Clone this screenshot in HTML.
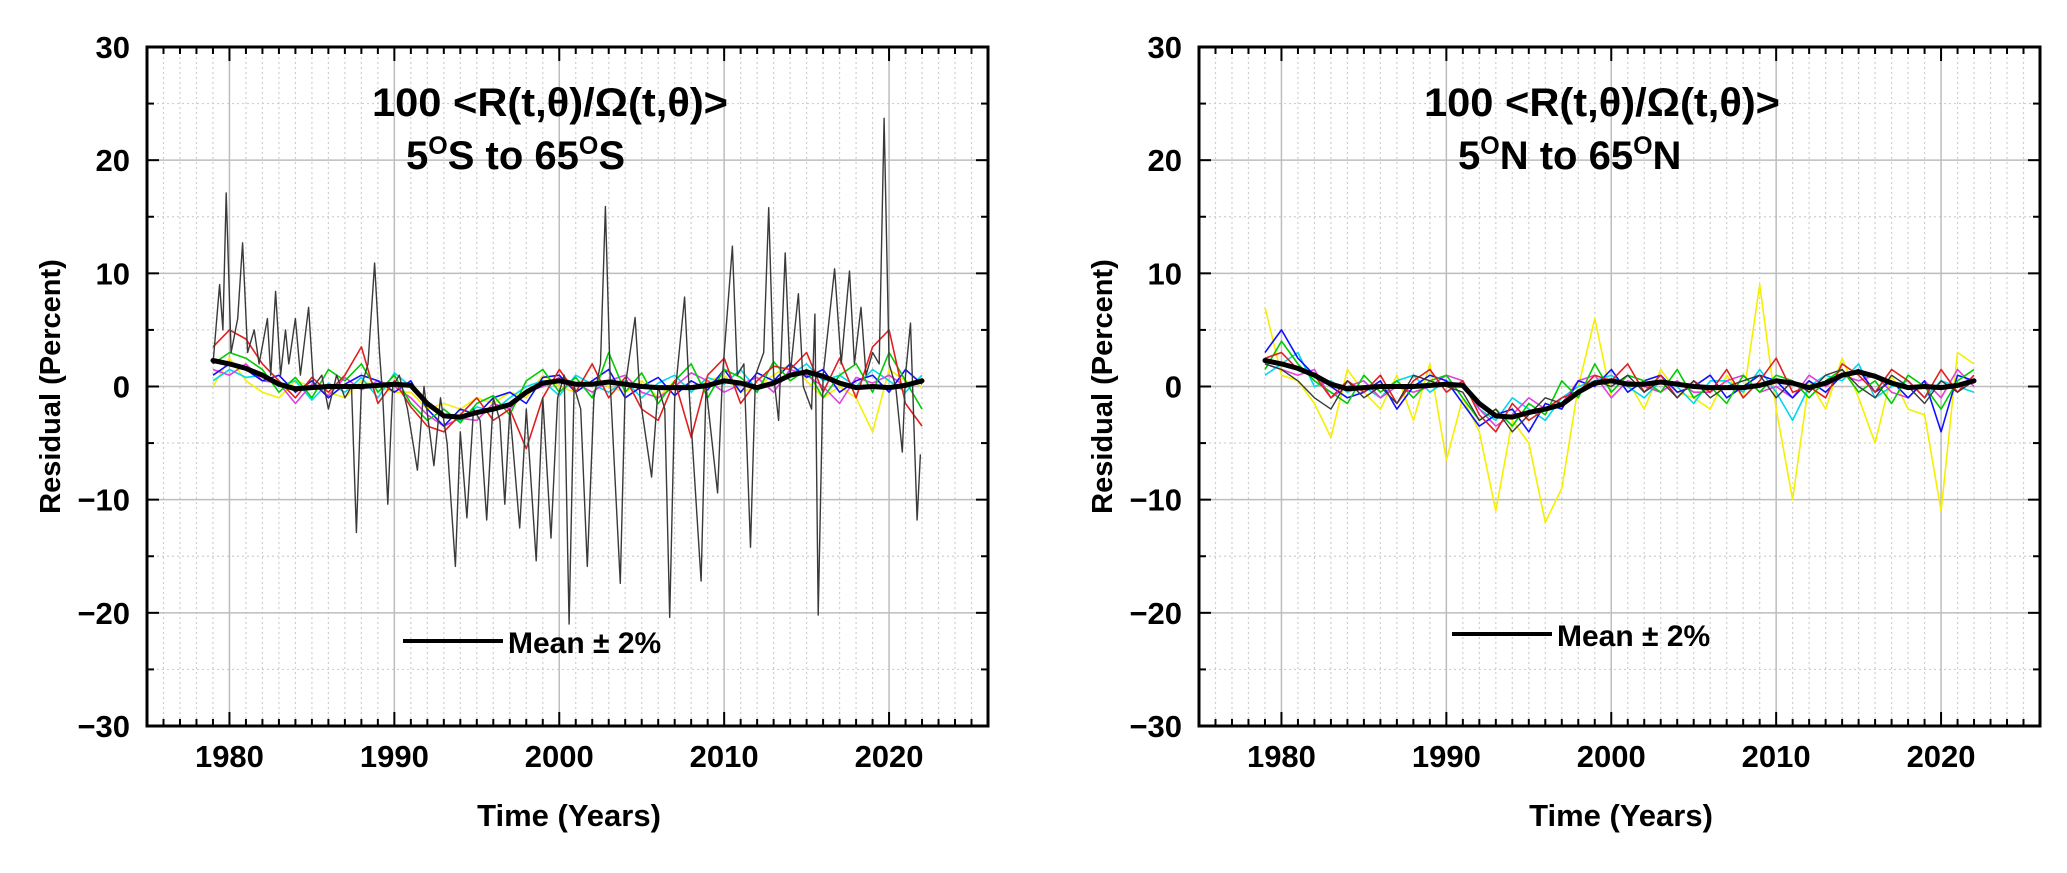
<!DOCTYPE html>
<html><head><meta charset="utf-8"><style>
body{margin:0;background:#fff;}
svg text{font-family:"Liberation Sans",Arial,sans-serif;font-weight:bold;fill:#000;}
</style></head><body>
<svg id="chart" width="2067" height="868" viewBox="0 0 2067 868" xmlns="http://www.w3.org/2000/svg"></svg>
<script>
// ---- data ----
const years = [1979,1980,1981,1982,1983,1984,1985,1986,1987,1988,1989,1990,1991,1992,1993,1994,1995,1996,1997,1998,1999,2000,2001,2002,2003,2004,2005,2006,2007,2008,2009,2010,2011,2012,2013,2014,2015,2016,2017,2018,2019,2020,2021,2022];
const meanValues = [2.3,2.0,1.6,1.0,0.2,-0.2,-0.1,0,0,0,0.1,0.2,0.1,-1.5,-2.6,-2.7,-2.3,-2.0,-1.6,-0.5,0.3,0.5,0.2,0.2,0.4,0.2,0,-0.1,-0.1,-0.1,0.1,0.5,0.3,-0.1,0.3,1.0,1.3,0.9,0.3,-0.1,0.0,-0.1,0.1,0.5];
const xTicks = [1980,1990,2000,2010,2020];
const yTicks = [30,20,10,0,-10,-20,-30];
const yTickLabels = ["30","20","10","0","\u221210","\u221220","\u221230"];

const southRed = [3.5,5.0,4.2,2.0,0.5,-1.0,0.8,-0.5,1.0,3.5,-1.5,0.5,-1.8,-3.5,-4.0,-2.5,-1.0,-3.0,-2.0,-5.5,-1.0,1.5,-0.5,2.0,-1.0,0.8,-2.0,-3.0,0.5,-4.5,1.0,2.5,-1.5,0.5,1.8,1.5,3.0,-0.5,2.5,-1.0,3.5,5.0,-1.5,-3.5];
const southGreen = [2.0,3.0,2.5,1.5,-0.5,0.8,-1.0,1.5,0.5,2.0,-0.5,1.0,-1.5,-3.0,-2.0,-3.2,-1.5,-0.8,-2.5,0.5,1.5,-0.5,0.8,-1.0,3.0,-0.5,1.2,-1.5,0.5,2.0,-1.0,1.5,0.8,-0.5,2.2,0.5,1.5,-1.0,1.0,2.0,-0.5,3.0,0.5,-2.0];
const southBlue = [1.0,2.0,1.5,0.5,1.0,-0.5,0.5,-1.0,0.2,1.0,0.5,-0.5,0.5,-2.0,-3.5,-2.0,-2.5,-1.0,-0.5,-1.5,0.8,1.0,-0.5,0.5,1.5,-1.0,0.0,0.8,-0.8,0.5,-0.3,1.5,-0.5,1.2,0.5,2.0,0.8,1.5,-0.5,0.5,1.0,-0.5,1.5,0.2];
const southCyan = [0.5,1.5,0.8,1.0,0.0,0.5,-1.2,0.3,-0.5,0.8,-1.0,1.2,0.0,-1.5,-2.5,-3.0,-1.8,-2.2,-1.0,0.0,0.5,-0.8,1.0,0.2,-0.5,0.5,-1.0,0.3,1.0,-0.5,0.8,0.2,1.5,-0.3,0.5,1.0,2.0,0.5,1.0,0.0,1.5,0.5,-0.5,1.0];
const southMagenta = [1.5,1.0,2.0,0.5,0.3,-1.5,0.2,-0.8,0.8,-0.3,0.5,0.0,-1.0,-2.5,-3.5,-2.8,-3.0,-1.5,-2.0,-0.5,0.0,0.8,0.3,-0.5,0.5,1.0,-0.5,-1.0,0.0,1.2,0.5,-0.5,0.2,0.8,-0.5,1.5,1.0,0.0,-1.5,0.8,0.3,1.0,0.0,0.5];
const southYellow = [0.0,2.5,0.5,-0.5,-1.0,0.5,0.0,-0.5,-1.0,0.5,0.0,-0.5,-0.5,-2.0,-1.5,-2.0,-1.0,-1.5,-0.5,-1.0,1.0,0.0,-0.5,0.5,0.0,-0.5,0.5,-1.0,0.5,0.0,0.5,1.0,-0.5,0.0,1.0,2.0,0.5,-1.0,0.0,-1.0,-4.0,1.5,0.5,0.0];
const southBlackYears = [1979,1979.4,1979.6,1979.8,1980.1,1980.5,1980.8,1981.1,1981.5,1981.8,1982.3,1982.5,1982.8,1983.1,1983.4,1983.6,1984,1984.3,1984.8,1985.1,1985.6,1986,1986.5,1987,1987.4,1987.7,1988,1988.4,1988.8,1989.1,1989.3,1989.6,1989.9,1990.3,1990.8,1991.4,1991.8,1992.4,1992.8,1993.2,1993.7,1994,1994.4,1994.8,1995.2,1995.6,1996,1996.4,1996.7,1997,1997.6,1998,1998.6,1999,1999.5,1999.9,2000.3,2000.6,2000.9,2001.3,2001.7,2002.1,2002.5,2002.8,2003.1,2003.7,2004,2004.6,2004.9,2005.6,2006,2006.4,2006.7,2007,2007.6,2007.9,2008.6,2008.9,2009.6,2009.9,2010.5,2010.8,2011.2,2011.6,2011.9,2012.4,2012.7,2013.0,2013.3,2013.7,2014.0,2014.5,2014.8,2015.3,2015.5,2015.7,2016.0,2016.7,2017.1,2017.6,2017.9,2018.3,2018.6,2019.0,2019.4,2019.7,2020.0,2020.4,2020.8,2021.0,2021.3,2021.7,2021.9];
const southBlackValues = [2,9,5,17.1,3,6,12.7,3,5,2,6,1,8.4,1,5,2,6,1,7,0,1,-2,1,-1,0,-12.9,0,2,10.9,3,-1,-10.4,0,1,-2,-7.4,0,-7,-1,-5,-15.9,-4,-11.6,-2,-3,-11.8,-1,-3,-10.4,-2,-12.5,-2,-15.4,-1,-13.4,-1,1,-21,0,-2,-15.9,-1,2,15.9,0,-17.4,0,6.1,-1,-8,0,-2,-20.4,-1,7.9,-1,-17.2,0,-9.4,1,12.4,1,2,-14.2,1,3,15.8,1,-3,11.8,1,8.2,0,-2,6.4,-20.2,1,10.4,2,10.2,2,7,1,3,2,23.7,2,0,-5.8,1,5.6,-11.8,-6];

const northRed = [2.5,3.0,1.5,1.0,-1.0,0.5,-0.5,1.0,-1.5,0.5,1.5,-0.5,0.5,-2.5,-4.0,-1.5,-3.0,-2.0,-1.0,-0.5,1.0,0.5,2.0,-0.5,1.0,-1.0,0.5,-0.5,1.5,-1.0,0.5,2.5,-0.5,0.0,-1.0,2.0,1.0,-0.5,1.5,0.5,-1.0,1.5,-0.5,1.0];
const northGreen = [1.5,4.0,2.0,0.5,-0.5,-1.5,1.0,-0.5,0.5,-1.0,0.5,1.0,-1.0,-3.0,-2.0,-3.5,-1.5,-2.5,0.5,-1.0,2.0,-0.5,1.0,0.5,-0.5,1.5,-1.0,0.0,-1.5,1.0,-0.5,1.0,0.5,-1.0,0.5,1.5,-0.5,0.5,-1.5,1.0,0.0,-2.0,0.5,1.5];
const northBlue = [3.0,5.0,2.5,1.0,0.0,-1.0,-0.5,0.5,-2.0,0.0,1.0,0.5,-1.5,-3.5,-2.5,-2.0,-4.0,-1.5,-2.0,0.5,0.0,1.5,-0.5,0.5,1.0,-0.5,0.0,1.0,-1.0,0.0,1.0,0.5,-1.0,0.5,-0.5,1.0,1.5,-0.5,0.5,-1.0,0.5,-4.0,1.0,0.5];
const northCyan = [1.0,2.0,3.0,0.0,0.5,-0.5,0.0,-1.0,0.5,1.0,-0.5,0.5,0.0,-2.0,-3.0,-1.0,-2.0,-3.0,-1.0,0.0,0.5,1.0,0.0,-1.0,0.5,0.0,-1.5,0.5,0.5,-0.5,1.5,-0.5,-3.0,0.0,1.0,0.5,2.0,-1.0,0.0,0.5,-1.0,0.5,0.0,-0.5];
const northMagenta = [2.0,1.5,1.0,1.5,-1.0,0.0,0.5,-1.0,0.0,-0.5,0.0,1.0,0.5,-2.0,-3.5,-2.5,-1.0,-2.0,-1.5,0.5,1.0,-1.0,0.5,0.0,-0.5,0.5,-0.5,-0.5,0.5,1.0,-0.5,0.0,-1.0,1.0,0.0,1.0,0.5,1.0,-0.5,-1.0,0.5,-1.0,1.5,0.0];
const northYellow = [7.0,1.0,0.5,-1.5,-4.5,1.5,-0.5,-2.0,1.0,-3.0,2.0,-6.5,-1.0,-4.0,-11.0,-3.0,-5.0,-12.0,-9.0,0.0,6.0,-1.0,0.5,-2.0,1.5,-0.5,-1.0,-2.0,1.0,-1.0,9.0,-2.0,-10.0,0.5,-2.0,2.5,-1.0,-5.0,1.0,-2.0,-2.5,-11.0,3.0,2.0];
const northBlack = [2.0,1.5,0.5,-1.0,-2.0,0.5,-1.0,0.0,-1.5,1.0,0.5,0.0,-0.5,-3.0,-2.0,-4.0,-2.5,-1.0,-1.5,-0.5,0.5,0.0,1.0,-0.5,0.5,-1.0,0.5,-1.0,0.0,0.5,1.0,-1.0,0.5,-0.5,1.0,1.5,0.0,-1.0,1.0,0.0,-1.5,0.5,-0.5,0.5];

// ---- drawing ----
const NS = "http://www.w3.org/2000/svg";
const svg = document.getElementById("chart");
const X0 = 1975, X1 = 2026, Y0 = -30, Y1 = 30;
const PW = 841, TOP = 47, BOT = 726;

function mk(tag, attrs, parent) {
  const e = document.createElementNS(NS, tag);
  for (const k in attrs) e.setAttribute(k, attrs[k]);
  (parent || svg).appendChild(e);
  return e;
}

function drawPanel(left, panelName, lines, blackXs, blackYs, title2a, title2b, legendX, legendY) {
  const g = mk("g", {});
  
  
  const sx = v => left + (v - X0) / (X1 - X0) * PW;
  const sy = v => BOT - (v - Y0) / (Y1 - Y0) * (BOT - TOP);
  const right = left + PW;
  // minor grid
  for (let yr = 1976; yr < X1; yr++) {
    if (yr % 10 === 0) continue;
    const l = mk("line", {x1: sx(yr), x2: sx(yr), y1: TOP, y2: BOT, stroke: "#cfcfcf", "stroke-width": 1.2, "stroke-dasharray": "2,3"}, g);
    
    
  }
  for (let v = -25; v < 30; v += 10) {
    const l = mk("line", {x1: left, x2: right, y1: sy(v), y2: sy(v), stroke: "#cfcfcf", "stroke-width": 1.2, "stroke-dasharray": "2,3"}, g);
    
    
  }
  // major grid
  xTicks.forEach(t => {
    const l = mk("line", {x1: sx(t), x2: sx(t), y1: TOP, y2: BOT, stroke: "#bdbdbd", "stroke-width": 1.5}, g);
    
    
  });
  yTicks.forEach(t => {
    if (t === 30 || t === -30) return;
    const l = mk("line", {x1: left, x2: right, y1: sy(t), y2: sy(t), stroke: "#bdbdbd", "stroke-width": 1.5}, g);
    
    
  });
  // series
  lines.forEach(s => {
    const pts = years.map((yr, i) => sx(yr).toFixed(1) + "," + sy(s.vals[i]).toFixed(1)).join(" ");
    const p = mk("polyline", {points: pts, fill: "none", stroke: s.color, "stroke-width": 1.6, "stroke-linejoin": "round"}, g);
    
    
  });
  if (blackXs) {
    const pts = blackXs.map((yr, i) => sx(yr).toFixed(1) + "," + sy(blackYs[i]).toFixed(1)).join(" ");
    const p = mk("polyline", {points: pts, fill: "none", stroke: "#3a3a3a", "stroke-width": 1.4, "stroke-linejoin": "round"}, g);
    
    
  }
  // mean
  const mp = years.map((yr, i) => sx(yr).toFixed(1) + "," + sy(meanValues[i]).toFixed(1)).join(" ");
  const mean = mk("polyline", {points: mp, fill: "none", stroke: "#000", "stroke-width": 5, "stroke-linejoin": "round", "stroke-linecap": "round"}, g);
  
  
  // ticks
  for (let yr = 1976; yr < X1; yr++) {
    const len = yr % 10 === 0 ? 14 : 7;
    mk("line", {x1: sx(yr), x2: sx(yr), y1: BOT, y2: BOT - len, stroke: "#000", "stroke-width": 2}, g);
    mk("line", {x1: sx(yr), x2: sx(yr), y1: TOP, y2: TOP + len, stroke: "#000", "stroke-width": 2}, g);
  }
  for (let v = -25; v < 30; v += 5) {
    const len = v % 10 === 0 ? 12 : 7;
    mk("line", {x1: left, x2: left + len, y1: sy(v), y2: sy(v), stroke: "#000", "stroke-width": 2}, g);
    mk("line", {x1: right, x2: right - len, y1: sy(v), y2: sy(v), stroke: "#000", "stroke-width": 2}, g);
  }
  // frame
  const fr = mk("rect", {x: left, y: TOP, width: PW, height: BOT - TOP, fill: "none", stroke: "#000", "stroke-width": 3}, g);
  
  
  // tick labels
  xTicks.forEach(t => {
    const tx = mk("text", {x: sx(t), y: 767, "font-size": 31, "text-anchor": "middle"}, g);
    tx.textContent = t;
    
    
  });
  yTicks.forEach((t, i) => {
    const tx = mk("text", {x: left - 17, y: sy(t) + 11, "font-size": 31, "text-anchor": "end"}, g);
    tx.textContent = yTickLabels[i];
    
    
  });
  // axis titles
  const xt = mk("text", {x: left + 422, y: 826, "font-size": 31, "text-anchor": "middle"}, g);
  xt.textContent = "Time (Years)";
  
  
  const yt = mk("text", {x: 0, y: 0, "font-size": 29, "text-anchor": "middle", transform: "translate(" + (left - 87) + "," + sy(0) + ") rotate(-90)"}, g);
  yt.textContent = "Residual (Percent)";
  
  
  // title
  const t1 = mk("text", {x: left + 225, y: 116, "font-size": 40, textLength: 356, lengthAdjust: "spacingAndGlyphs"}, g);
  t1.textContent = "100 <R(t,\u03B8)/\u03A9(t,\u03B8)>";
  
  
  const t2 = mk("text", {x: left + 259, y: 169, "font-size": 40}, g);
  
  
  t2.innerHTML = '5<tspan font-size="25" dy="-15">O</tspan><tspan dy="15">' + title2a + ' to 65</tspan><tspan font-size="25" dy="-15">O</tspan><tspan dy="15">' + title2b + '</tspan>';
  // legend
  const lg = mk("g", {}, g);
  
  
  mk("line", {x1: legendX, x2: legendX + 100, y1: legendY, y2: legendY, stroke: "#000", "stroke-width": 4}, lg);
  const lt = mk("text", {x: legendX + 105, y: legendY + 12, "font-size": 30}, lg);
  lt.textContent = "Mean \u00B1 2%";
}

drawPanel(147, "south-panel", [
  {name: "series-yellow", color: "#f5f000", vals: southYellow},
  {name: "series-cyan", color: "#00d8f0", vals: southCyan},
  {name: "series-magenta", color: "#e040e0", vals: southMagenta},
  {name: "series-blue", color: "#1010ff", vals: southBlue},
  {name: "series-green", color: "#00cc00", vals: southGreen},
  {name: "series-red", color: "#e02020", vals: southRed}
], southBlackYears, southBlackValues, "S", "S", 403, 641);

drawPanel(1199, "north-panel", [
  {name: "series-yellow", color: "#f5f000", vals: northYellow},
  {name: "series-cyan", color: "#00d8f0", vals: northCyan},
  {name: "series-magenta", color: "#e040e0", vals: northMagenta},
  {name: "series-blue", color: "#1010ff", vals: northBlue},
  {name: "series-green", color: "#00cc00", vals: northGreen},
  {name: "series-red", color: "#e02020", vals: northRed}
], years, northBlack, "N", "N", 1452, 634);
</script>
</body></html>
